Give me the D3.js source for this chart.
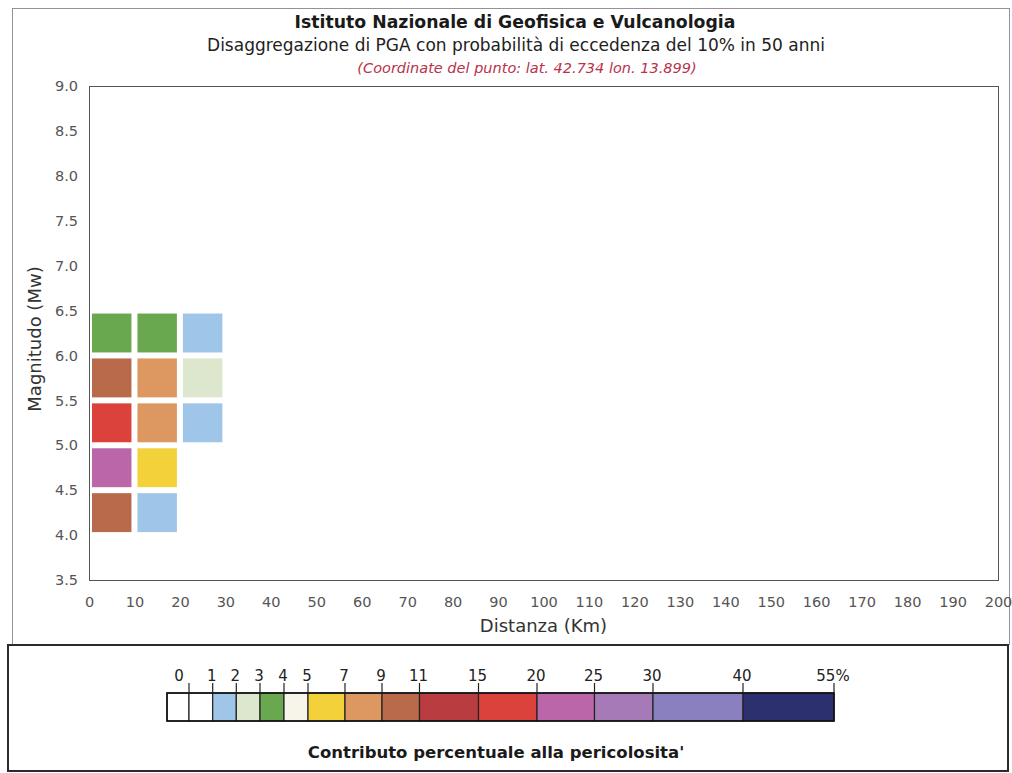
<!DOCTYPE html>
<html>
<head>
<meta charset="utf-8">
<script src="https://cdn.jsdelivr.net/npm/d3@7"></script>
<style>
  body { margin: 0; background: #fff; }
  svg { display: block; font-family: "DejaVu Sans", Verdana, sans-serif; }
</style>
</head>
<body>
<svg id="chart" width="1012" height="773"></svg>
<script>
// ---- data ----
// each cell: distance bin start (km), magnitude bin start (Mw), % contribution
const cellDist = [0, 0, 0, 0, 0, 10, 10, 10, 10, 10, 20, 20, 20];
const cellMag  = [6.0, 5.5, 5.0, 4.5, 4.0, 6.0, 5.5, 5.0, 4.5, 4.0, 6.0, 5.5, 5.0];
const cellPct  = [3.5, 10, 16, 21, 9.5, 3.2, 8, 7.5, 5.5, 1.5, 1.6, 2.2, 1.3];

const xTicks = d3.range(0, 201, 10);
const yTicks = [3.5, 4.0, 4.5, 5.0, 5.5, 6.0, 6.5, 7.0, 7.5, 8.0, 8.5, 9.0];

// legend classes (percent)
const legendBreaks = [0, 1, 2, 3, 4, 5, 7, 9, 11, 15, 20, 25, 30, 40, 55];
const legendColors = ["#ffffff", "#9fc5e8", "#dce7cd", "#6aa84f", "#f7f5ea", "#f2d13b",
                      "#dc9860", "#b86a4a", "#b83c40", "#da423b", "#bb66a8", "#a67ab6",
                      "#8b80bf", "#2d306e"];
const legendLabels = ["1", "2", "3", "4", "5", "7", "9", "11", "15", "20", "25", "30", "40", "55%"];

// ---- layout ----
const plot = { left: 89, right: 998, top: 86, bottom: 580 };
const svg = d3.select("#chart");

// outer panels
svg.append("rect")
  .attr("x", 12.5).attr("y", 8.5).attr("width", 997).attr("height", 636)
  .attr("fill", "none").attr("stroke", "#9a8e9e").attr("stroke-width", 1);
svg.append("rect")
  .attr("x", 8).attr("y", 645).attr("width", 1000).attr("height", 126)
  .attr("fill", "none").attr("stroke", "#2b2b2b").attr("stroke-width", 2);

// titles
svg.append("text").attr("x", 515).attr("y", 28).attr("text-anchor", "middle")
  .attr("font-size", 17.3).attr("font-weight", "bold").attr("fill", "#1a1a1a")
  .text("Istituto Nazionale di Geofisica e Vulcanologia");
svg.append("text").attr("x", 516).attr("y", 51).attr("text-anchor", "middle")
  .attr("font-size", 17).attr("fill", "#222")
  .text("Disaggregazione di PGA con probabilità di eccedenza del 10% in 50 anni");
svg.append("text").attr("x", 527).attr("y", 73).attr("text-anchor", "middle")
  .attr("font-size", 14.5).attr("font-style", "italic").attr("fill", "#b8324a")
  .text("(Coordinate del punto: lat. 42.734 lon. 13.899)");

// scales
const x = d3.scaleLinear().domain([0, 200]).range([plot.left, plot.right]);
const y = d3.scaleLinear().domain([3.5, 9.0]).range([plot.bottom, plot.top]);
const color = d3.scaleThreshold().domain(legendBreaks.slice(1, -1)).range(legendColors);

// plot frame
svg.append("rect")
  .attr("x", plot.left + 0.5).attr("y", plot.top + 0.5)
  .attr("width", plot.right - plot.left).attr("height", plot.bottom - plot.top)
  .attr("fill", "#fff").attr("stroke", "#555").attr("stroke-width", 1);

// axes
const xAxis = svg.append("g")
  .attr("transform", `translate(0,${plot.bottom})`)
  .call(d3.axisBottom(x).tickValues(xTicks).tickSize(0).tickPadding(17));
const yAxis = svg.append("g")
  .attr("transform", `translate(${plot.left},0)`)
  .call(d3.axisLeft(y).tickValues(yTicks).tickFormat(d3.format(".1f")).tickSize(0).tickPadding(11));
[xAxis, yAxis].forEach(g => {
  g.select(".domain").remove();
  g.selectAll("text").attr("font-family", "DejaVu Sans, Verdana, sans-serif")
    .attr("font-size", 14.5).attr("fill", "#555");
});

svg.append("text").attr("x", (plot.left + plot.right) / 2).attr("y", 632)
  .attr("text-anchor", "middle").attr("font-size", 18).attr("fill", "#333")
  .text("Distanza (Km)");
svg.append("text")
  .attr("transform", "translate(41,339) rotate(-90)")
  .attr("text-anchor", "middle").attr("font-size", 18).attr("fill", "#333")
  .text("Magnitudo (Mw)");

// cells
const cells = cellDist.map((d, i) => ({ dist: d, mag: cellMag[i], pct: cellPct[i] }));
const inset = 3;
svg.append("g").selectAll("rect")
  .data(cells)
  .enter()
  .append("rect")
  .attr("x", d => x(d.dist) + inset)
  .attr("y", d => y(d.mag + 0.5) + inset)
  .attr("width", d => x(d.dist + 10) - x(d.dist) - 2 * inset)
  .attr("height", d => y(d.mag) - y(d.mag + 0.5) - 2 * inset)
  .attr("fill", d => color(d.pct));

// legend bar
const legendPos = [189, 212.7, 236.3, 260, 284, 308, 345, 382, 419.5, 478.5, 537, 594.5, 653, 743, 834];
const lx = d3.scaleLinear().domain(legendBreaks).range(legendPos);
const barTop = 693, barH = 28, zeroCellLeft = 167;
const lg = svg.append("g");

// leading "0" cell
lg.append("rect")
  .attr("x", zeroCellLeft).attr("y", barTop)
  .attr("width", lx(0) - zeroCellLeft).attr("height", barH)
  .attr("fill", "#fff").attr("stroke", "#222").attr("stroke-width", 1.2);
lg.append("text").attr("x", (zeroCellLeft + lx(0)) / 2 + 1).attr("y", barTop - 12)
  .attr("text-anchor", "middle").attr("font-size", 15).attr("fill", "#222").text("0");

const segs = legendColors.map((c, i) => ({ a: legendBreaks[i], b: legendBreaks[i + 1], c }));
lg.selectAll(".seg")
  .data(segs)
  .enter()
  .append("rect")
  .attr("class", "seg")
  .attr("x", d => lx(d.a)).attr("y", barTop)
  .attr("width", d => lx(d.b) - lx(d.a)).attr("height", barH)
  .attr("fill", d => d.c).attr("stroke", "#222").attr("stroke-width", 1.2);

lg.append("rect")
  .attr("x", zeroCellLeft).attr("y", barTop)
  .attr("width", lx(55) - zeroCellLeft).attr("height", barH)
  .attr("fill", "none").attr("stroke", "#111").attr("stroke-width", 1.6);

// tick marks and labels above the bar
lg.selectAll(".tk")
  .data(legendBreaks)
  .enter()
  .append("line")
  .attr("class", "tk")
  .attr("x1", d => lx(d)).attr("x2", d => lx(d))
  .attr("y1", barTop - 10).attr("y2", barTop)
  .attr("stroke", "#222").attr("stroke-width", 1.2);
lg.selectAll(".lbl")
  .data(legendBreaks.slice(1))
  .enter()
  .append("text")
  .attr("class", "lbl")
  .attr("x", d => lx(d) - 1).attr("y", barTop - 12)
  .attr("text-anchor", "middle").attr("font-size", 15).attr("fill", "#222")
  .text((d, i) => legendLabels[i]);

svg.append("text").attr("x", 496).attr("y", 758).attr("text-anchor", "middle")
  .attr("font-size", 16.5).attr("font-weight", "bold").attr("fill", "#1a1a1a")
  .text("Contributo percentuale alla pericolosita'");
</script>
</body>
</html>
